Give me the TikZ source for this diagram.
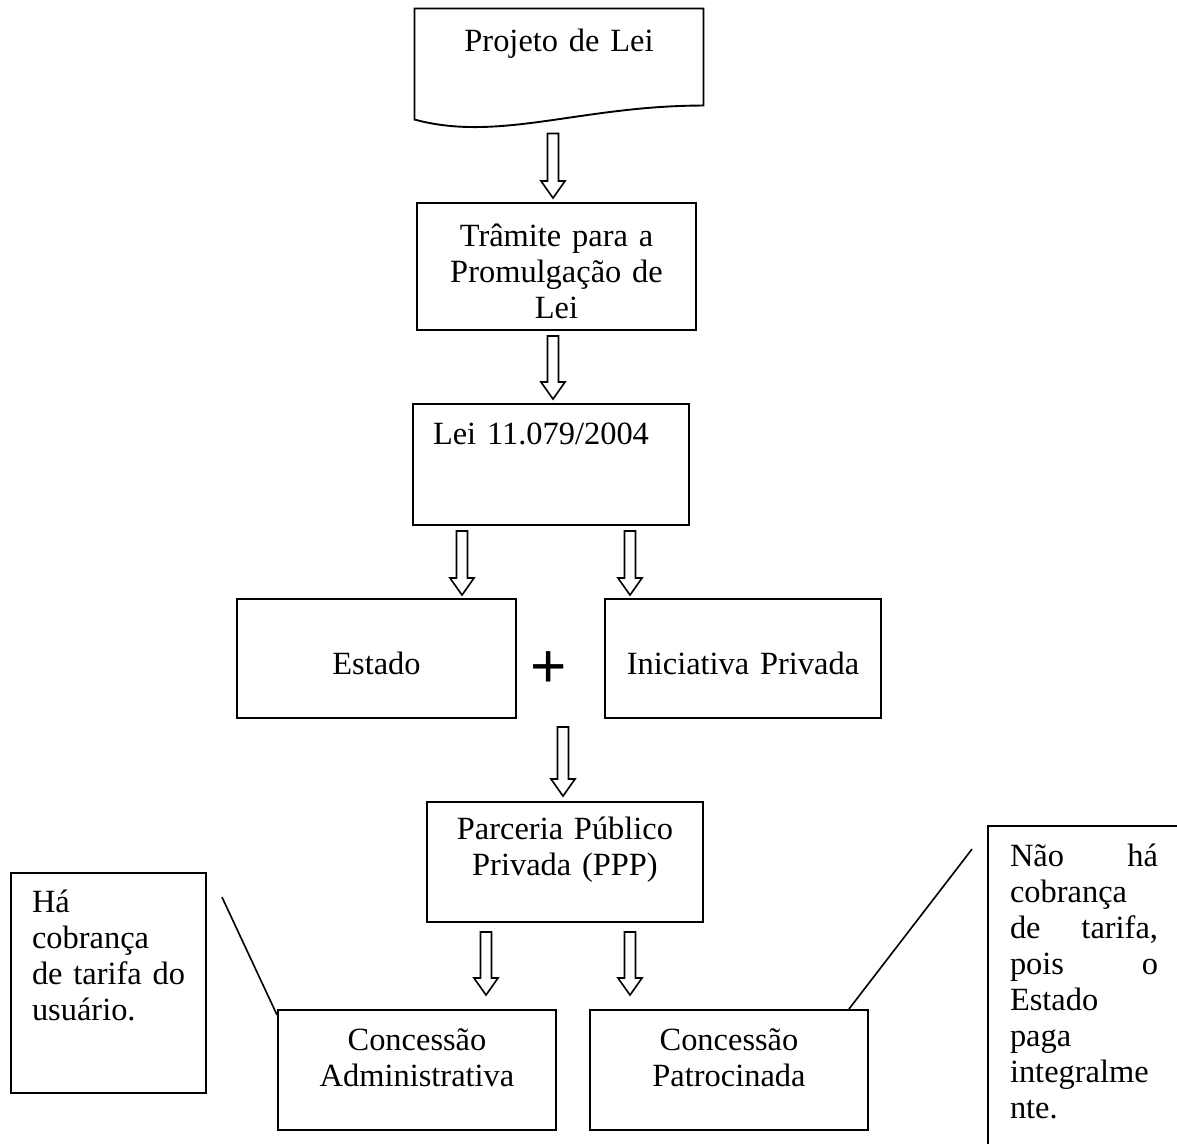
\documentclass[tikz,border=0pt]{standalone}
\usepackage{fontspec}
\setmainfont{Liberation Serif}
\newfontfamily\plusfont{Liberation Sans}
\usetikzlibrary{calc}
\usetikzlibrary{positioning}

\def\pxu{0.37pt}
\newcommand\fullline[2]{\leavevmode\hbox to \hsize{#1\hfil #2}}

\tikzset{
    every node/.style={font=\fontsize{12}{13.3}\selectfont},
    box/.style={draw, line width=0.7pt, inner ysep=0pt, inner xsep=20*\pxu, align=center},
    notebox/.style={draw, line width=0.7pt, inner ysep=0pt, align=left},
    docline/.style={line width=0.7pt},
    pointer/.style={line width=0.6pt},
    blockarrow/.style={draw, line width=0.6pt, to path={
        let \p1=(\tikztostart), \p2=(\tikztotarget) in
        (\x1-5.5*\pxu,\y1) -- (\x1+5.5*\pxu,\y1) -- (\x1+5.5*\pxu,\y2+17*\pxu)
        -- (\x1+12*\pxu,\y2+17*\pxu) -- (\x1,\y2) -- (\x1-12*\pxu,\y2+17*\pxu)
        -- (\x1-5.5*\pxu,\y2+17*\pxu) -- cycle}}
}

\begin{document}
\begin{tikzpicture}[x=\pxu, y=-\pxu]
    \useasboundingbox (0,0) rectangle (1177,1144);

    % documento no topo
    \node[inner ysep=0pt, inner xsep=20*\pxu, align=center, text width=248*\pxu,
        text height=43*\pxu, text depth=67*\pxu] (proj) at (559,64) {Projeto de Lei};
    \draw[docline] (proj.north west) -- (proj.north east) -- ($(proj.south east)+(0,-14)$)
        .. controls ($(proj.south east)+(-123,-14)$) and ($(proj.south west)+(85,23)$) .. (proj.south west) -- cycle;

    % caixas do fluxo
    \node[box, text width=239*\pxu, text height=44*\pxu, text depth=83*\pxu] (tram) at (556.5,266.5)
        {Trâmite para a\\ Promulgação de\\ Lei};
    \node[box, align=left, text width=236*\pxu, text height=41*\pxu, text depth=80*\pxu] (lei) at (551,464.5)
        {Lei 11.079/2004};
    \node[box, text width=239*\pxu, text height=76*\pxu, text depth=43*\pxu] (estado) at (376.5,658.5) {Estado};
    \node[box, text width=236*\pxu, text height=76*\pxu, text depth=43*\pxu] (inic) at (743,658.5) {Iniciativa Privada};
    \node[inner sep=0pt, font=\plusfont\fontsize{23}{24}\selectfont] (plus) at (549,670) {+};
    \node[box, text width=236*\pxu, text height=38*\pxu, text depth=82*\pxu] (ppp) at (565,862)
        {Parceria Público\\ Privada (PPP)};
    \node[box, text width=238*\pxu, text height=41*\pxu, text depth=79*\pxu] (adm) at (417,1070)
        {Concessão\\ Administrativa};
    \node[box, text width=238*\pxu, text height=41*\pxu, text depth=79*\pxu] (pat) at (729,1070)
        {Concessão\\ Patrocinada};

    % notas laterais
    \node[notebox, inner xsep=21*\pxu, text width=153*\pxu, text height=40*\pxu, text depth=180*\pxu] (ha) at (108.5,983)
        {Há\\ cobrança\\ \mbox{de tarifa do}\\ usuário.};
    \node[notebox, inner xsep=22*\pxu, text width=148*\pxu, text height=41*\pxu, text depth=293*\pxu] (nao) at (1084,993)
        {\fullline{Não}{há}\\ cobrança\\ \fullline{de}{tarifa,}\\
         \fullline{pois}{o}\\ Estado\\ paga\\ integralme\\ nte.};

    % setas
    \draw[blockarrow] ($(proj.south)+(-6,14)$) to ($(tram.north)+(0,-4)$);
    \draw[blockarrow] ($(tram.south)+(-3.5,5)$) to ($(lei.north)+(0,-4)$);
    \draw[blockarrow] ($(lei.south)+(-89,5)$) to ($(estado.north)+(0,-3)$);
    \draw[blockarrow] ($(lei.south)+(79,5)$) to ($(inic.north)+(0,-3)$);
    \draw[blockarrow] ($(estado.south -| ppp.north)+(-2,8)$) to ($(ppp.north)+(0,-5)$);
    \draw[blockarrow] ($(ppp.south)+(-79,9)$) to ($(adm.north)+(0,-14)$);
    \draw[blockarrow] ($(ppp.south)+(65,9)$) to ($(pat.north)+(0,-14)$);

    % linhas das notas
    \coordinate (hatip) at ($(ha.north east)+(15,25)$);
    \draw[pointer] (hatip) -- ($(adm.north west)+(0,6)$);
    \coordinate (naotip) at ($(nao.north west)+(-15,24)$);
    \draw[pointer] (naotip) -- ($(pat.north east)+(-20,0)$);
\end{tikzpicture}
\end{document}
